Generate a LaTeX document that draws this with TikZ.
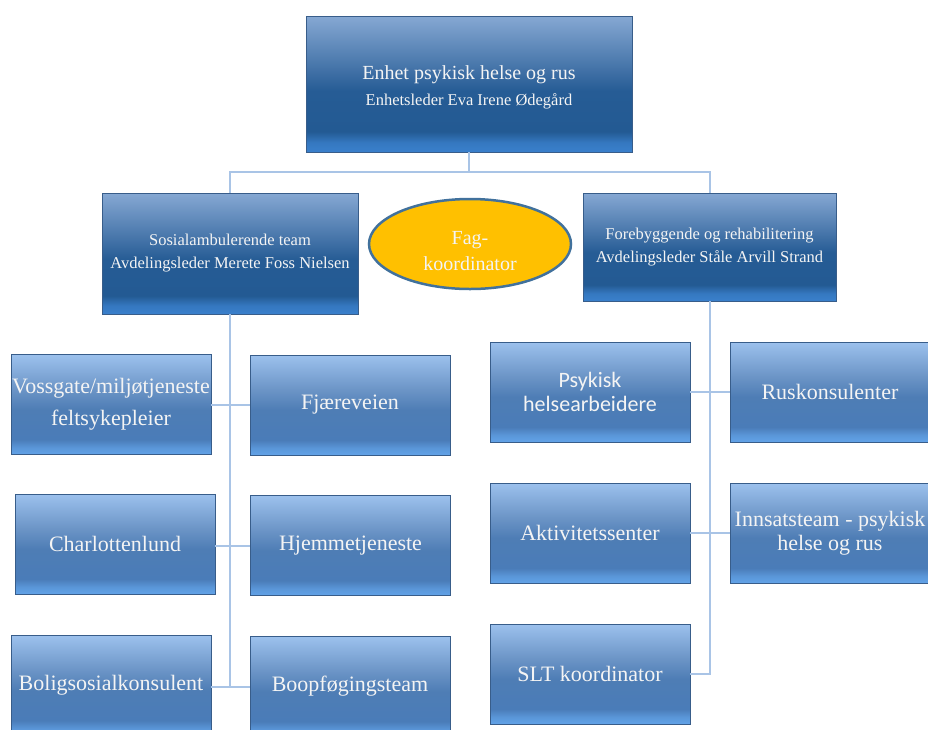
\documentclass[tikz,border=0pt]{standalone}
\usepackage{fontspec}
\setmainfont{Liberation Serif}
\newfontfamily\calib{Carlito}
\usetikzlibrary{shapes.geometric}
\definecolor{dA}{HTML}{86A8D3}
\definecolor{dB}{HTML}{4A78AC}
\definecolor{dC}{HTML}{265C95}
\definecolor{dD}{HTML}{235A93}
\definecolor{dE}{HTML}{3578C0}
\definecolor{dF}{HTML}{3A80CC}
\definecolor{cA}{HTML}{9CC1ED}
\definecolor{cB}{HTML}{6B94C6}
\definecolor{cC}{HTML}{4E7DB5}
\definecolor{cD}{HTML}{4A7CB8}
\definecolor{cE}{HTML}{5A96D8}
\definecolor{cF}{HTML}{62A3E8}
\definecolor{bordc}{HTML}{385D8A}
\definecolor{linec}{HTML}{A9C4E6}
\definecolor{ellfill}{HTML}{FFC000}
\definecolor{ellbord}{HTML}{41719C}
\definecolor{txtc}{HTML}{F4F4F4}
\pgfdeclareverticalshading{darkshade}{100bp}{color(0bp)=(dF); color(25bp)=(dF); color(28.5bp)=(dE); color(32.5bp)=(dD); color(47.5bp)=(dC); color(57.5bp)=(dB); color(75bp)=(dA); color(100bp)=(dA)}
\pgfdeclareverticalshading{childshade}{100bp}{color(0bp)=(cF); color(25bp)=(cF); color(28.5bp)=(cE); color(32.5bp)=(cD); color(47.5bp)=(cC); color(57.5bp)=(cB); color(75bp)=(cA); color(100bp)=(cA)}
\tikzset{
  mgrbox/.style={rectangle, draw=bordc, line width=0.8pt, shading=darkshade, inner sep=2pt, align=center, text=txtc},
  childbox/.style={rectangle, draw=bordc, line width=0.8pt, shading=childshade, minimum width=200pt, minimum height=100pt, inner sep=1pt, align=center, text=txtc, font=\fontsize{22}{32}\selectfont},
  sanschild/.style={font=\calib\fontsize{22}{24}\selectfont},
  conn/.style={draw=linec, line width=2pt},
  fagtext/.style={align=center, text=txtc, inner sep=0pt, font=\fontsize{20}{26}\selectfont},
}
\begin{document}
\begin{tikzpicture}[x=1pt,y=-1pt]
\useasboundingbox (0,0) rectangle (928,729);
\clip (0,0) rectangle (928,729);
% top
\node[mgrbox, minimum width=326pt, minimum height=136pt] (top) at (469,84) {};
\node[fagtext, font=\fontsize{20}{26}\selectfont] (toptxt) at (469,87.5)
  {Enhet psykisk helse og rus\\{\fontsize{16.5}{26}\selectfont Enhetsleder Eva Irene Ødegård}};
\node[mgrbox, minimum width=256pt, minimum height=121pt, font=\fontsize{16.5}{23}\selectfont] (lm) at (230,253.5)
  {Sosialambulerende team\\Avdelingsleder Merete Foss Nielsen};
\node[mgrbox, minimum width=253pt, minimum height=108pt, font=\fontsize{16.5}{23}\selectfont] (rm) at (709.5,247)
  {Forebyggende og rehabilitering\\Avdelingsleder Ståle Arvill Strand};
\node[ellipse, fill=ellfill, draw=ellbord, line width=2.5pt, minimum width=202pt, minimum height=90pt, inner sep=0pt] (fag) at (470,244) {};
\node[fagtext] (fagtxt) at (470,251) {Fag-\\koordinator};
% left children
\node[childbox] (voss) at (111,404.5) {Vossgate/miljøtjeneste\\feltsykepleier};
\node[childbox] (fjae) at (350,405) {Fjæreveien};
\node[childbox] (char) at (115,544) {Charlottenlund};
\node[childbox] (hjem) at (350.5,545.5) {Hjemmetjeneste};
\node[childbox] (bolig) at (111,685.5) {Boligsosialkonsulent};
\node[childbox] (boop) at (350,686.5) {Boopføgingsteam};
% right children
\node[childbox, sanschild] (psyk) at (590,392) {Psykisk\\helsearbeidere};
\node[childbox] (rus) at (830,392) {Ruskonsulenter};
\node[childbox] (akt) at (590,533) {Aktivitetssenter};
\node[childbox, font=\fontsize{22}{24}\selectfont] (inn) at (830,533) {Innsatsteam - psykisk\\helse og rus};
\node[childbox] (slt) at (590,674) {SLT koordinator};
% connectors
\coordinate (j) at (469,172);
\draw[conn] (top.south) -- (j);
\draw[conn] (j) -| (lm.north);
\draw[conn] (j) -| (rm.north);
\coordinate (lend) at (lm.south |- 0,687);
\draw[conn] (lm.south) -- (lend);
\draw[conn] (voss.east |- 0,405) -- (fjae.west |- 0,405);
\draw[conn] (char.east |- 0,546) -- (hjem.west |- 0,546);
\draw[conn] (bolig.east |- 0,687) -- (boop.west |- 0,687);
\coordinate (rend) at (rm.south |- slt.east);
\draw[conn] (rm.south) -- (rend) -- (slt.east);
\draw[conn] (psyk.east) -- (rus.west);
\draw[conn] (akt.east) -- (inn.west);
\end{tikzpicture}
\end{document}
